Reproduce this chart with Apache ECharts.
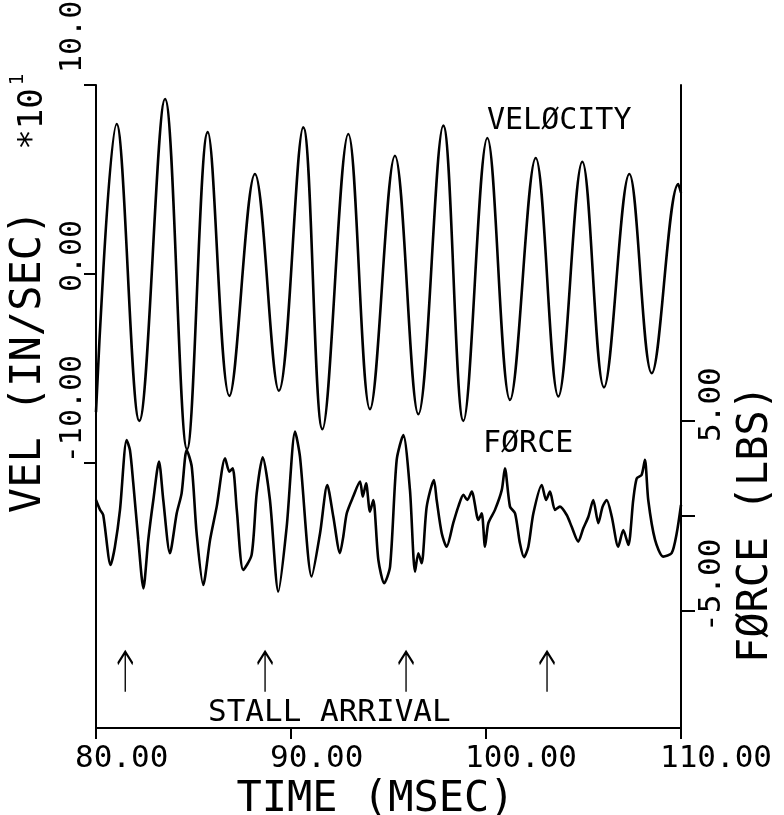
<!DOCTYPE html>
<html>
<head>
<meta charset="utf-8">
<script src="https://cdn.jsdelivr.net/npm/echarts/dist/echarts.min.js"></script>
<style>
html,body{margin:0;padding:0;background:#fff;}
#chart{width:784px;height:815px;}
</style>
</head>
<body>
<div id="chart"></div>
<script>
// ---- data ----
const xTicks = [80, 90, 100, 110];
const velTicks = [-10, 0, 10];
const forceTicks = [-5, 0, 5];
const forceLabels = [-5, 5];

// velocity extrema (time in msec, value in in/sec x10^1)
const velTime = [80.00, 81.06, 82.22, 83.54, 84.67, 85.73, 86.84, 88.15, 89.38, 90.63, 91.61, 92.94, 94.05, 95.33, 96.53, 97.81, 98.84, 100.07, 101.23, 102.55, 103.71, 104.94, 106.05, 107.35, 108.50, 109.86, 110.00];
const velValue = [-7.3, 7.94, -7.76, 9.26, -9.26, 7.51, -6.44, 5.29, -6.17, 7.76, -8.20, 7.41, -7.14, 6.26, -7.41, 7.85, -7.76, 7.20, -6.65, 6.14, -6.47, 5.94, -5.99, 5.29, -5.24, 4.76, 4.3];

const forceTime = [80.00, 80.21, 80.37, 80.75, 80.97, 81.23, 81.57, 81.74, 81.91, 82.17, 82.43, 82.68, 82.94, 83.23, 83.45, 83.79, 84.14, 84.39, 84.65, 84.91, 85.16, 85.50, 85.85, 86.19, 86.62, 86.84, 87.01, 87.22, 87.55, 87.98, 88.24, 88.55, 88.92, 89.35, 89.78, 90.21, 90.46, 91.06, 91.49, 91.86, 92.17, 92.51, 92.68, 92.86, 93.19, 93.54, 93.68, 93.85, 94.05, 94.22, 94.48, 94.78, 95.08, 95.42, 95.76, 96.10, 96.36, 96.53, 96.70, 96.96, 97.33, 97.47, 97.73, 97.98, 98.32, 98.58, 98.84, 99.04, 99.27, 99.61, 99.78, 99.95, 100.12, 100.46, 100.81, 100.97, 101.23, 101.49, 101.74, 101.95, 102.17, 102.43, 102.86, 103.08, 103.28, 103.54, 103.79, 104.14, 104.39, 104.73, 104.99, 105.25, 105.50, 105.76, 105.98, 106.19, 106.45, 106.78, 107.04, 107.30, 107.55, 107.73, 107.98, 108.15, 108.32, 108.67, 109.09, 109.52, 109.78, 110.00];
const forceValue = [0.84, 0.32, 0.05, -2.58, -1.62, 0.32, 4.00, 3.47, 1.74, -1.26, -3.81, -1.26, 0.84, 2.86, 0.84, -1.96, 0.14, 1.19, 3.47, 2.59, -0.91, -3.63, -1.26, 0.49, 3.04, 2.33, 2.51, 0.32, -2.84, -2.05, 1.19, 3.09, 0.84, -3.98, -0.56, 4.44, 3.12, -3.19, -0.91, 1.63, -0.04, -1.96, -1.09, 0.14, 1.02, 1.81, 1.02, 1.72, 0.23, 0.84, -2.32, -3.54, -2.67, 2.95, 4.26, 1.37, -2.93, -1.96, -2.49, 0.49, 1.89, 0.84, -0.91, -1.62, -0.38, 0.49, 1.11, 0.84, 1.28, -0.21, 0.14, -1.62, -0.38, 0.32, 1.37, 2.51, 0.49, 0.14, -1.44, -2.17, -1.62, 0.14, 1.63, 0.84, 1.28, 0.32, 0.49, 0.05, -0.56, -1.35, -0.65, -0.04, 0.84, -0.38, 0.49, 0.84, -0.04, -1.62, -0.74, -1.53, 0.84, 1.98, 2.16, 2.95, 0.84, -1.26, -2.14, -1.96, -0.91, 0.58];

const stallTimes = [81.50, 88.67, 95.90, 103.13];

// ---- build chart ----
const FONT = '"DejaVu Sans Mono", "Liberation Mono", monospace';
const INK = '#000';
const zip = (a, b) => a.map((v, i) => [v, b[i]]);
const velLabelShift = {'10': 12, '0': -18, '-10': 0};

const chart = echarts.init(document.getElementById('chart'), null, {renderer: 'canvas'});
const option = {
  animation: false,
  backgroundColor: '#fff',
  grid: {left: 96, right: 103, top: 85, bottom: 87, containLabel: false, outerBoundsMode: 'none'},
  xAxis: {
    type: 'value', min: 80, max: 110, interval: 10,
    name: 'TIME (MSEC)', nameLocation: 'middle', nameGap: 40,
    nameTextStyle: {fontFamily: FONT, fontSize: 42, color: INK, padding: [0, 26, 0, 0]},
    axisLine: {show: true, onZero: false, lineStyle: {color: INK, width: 2}},
    axisTick: {show: true, inside: false, length: 11, lineStyle: {color: INK, width: 2}},
    axisLabel: {
      show: true, margin: 15, fontFamily: FONT, fontSize: 31, color: INK,
      align: 'left', padding: [0, 0, 0, -21],
      showMinLabel: true, showMaxLabel: true,
      formatter: v => v.toFixed(2)
    },
    splitLine: {show: false}
  },
  yAxis: [
    {
      type: 'value', position: 'left', min: -24, max: 10,
      name: '{t|VEL (IN/SEC)}{g|}{e|*10}{s|1}', nameLocation: 'middle', nameGap: 35,
      nameTextStyle: {
        color: INK, padding: [0, 0, 0, 226],
        rich: {
          t: {fontFamily: FONT, fontSize: 42, color: INK, verticalAlign: 'bottom'},
          g: {width: 60},
          e: {fontFamily: FONT, fontSize: 34, color: INK, verticalAlign: 'bottom'},
          s: {fontFamily: FONT, fontSize: 19, color: INK, verticalAlign: 'top', padding: [0, 0, 0, 3]}
        }
      },
      axisLine: {show: true, onZero: false, lineStyle: {color: INK, width: 2}},
      axisTick: {show: true, inside: false, length: 12, customValues: velTicks, lineStyle: {color: INK, width: 2}},
      axisLabel: {
        show: true, customValues: velTicks, rotate: 90, margin: 8,
        align: 'left', verticalAlign: 'bottom',
        fontFamily: FONT, fontSize: 30, color: INK,
        formatter: v => '{p' + String(v).replace('-', 'm') + '|' + v.toFixed(2) + '}',
        rich: {
          p10: {fontFamily: FONT, fontSize: 30, color: INK, padding: [0, 0, 0, velLabelShift['10']]},
          p0: {fontFamily: FONT, fontSize: 30, color: INK, padding: [0, 0, 0, velLabelShift['0']]},
          pm10: {fontFamily: FONT, fontSize: 30, color: INK, padding: [0, 0, 0, velLabelShift['-10']]}
        }
      },
      splitLine: {show: false}
    },
    {
      type: 'value', position: 'right', min: -11.16, max: 22.68,
      name: 'FØRCE (LBS)', nameLocation: 'middle', nameGap: 42,
      nameTextStyle: {fontFamily: FONT, fontSize: 42, color: INK, padding: [0, 235, 0, 0]},
      axisLine: {show: true, onZero: false, lineStyle: {color: INK, width: 2}},
      axisTick: {show: true, inside: false, length: 14, customValues: forceTicks, lineStyle: {color: INK, width: 2}},
      axisLabel: {
        show: true, customValues: forceLabels, rotate: 90, margin: 15,
        align: 'left', verticalAlign: 'top', padding: [0, 0, 0, -21],
        fontFamily: FONT, fontSize: 31, color: INK,
        formatter: v => v.toFixed(2)
      },
      splitLine: {show: false}
    }
  ],
  graphic: [
    {type: 'text', x: 487, y: 121, style: {text: 'VELØCITY', font: '30px ' + FONT, fill: INK, align: 'left', verticalAlign: 'middle'}},
    {type: 'text', x: 483, y: 444, style: {text: 'FØRCE', font: '30px ' + FONT, fill: INK, align: 'left', verticalAlign: 'middle'}},
    {type: 'text', x: 208, y: 713, style: {text: 'STALL ARRIVAL', font: '31px ' + FONT, fill: INK, align: 'left', verticalAlign: 'middle'}}
  ],
  series: [
    {
      name: 'VELOCITY', type: 'line', xAxisIndex: 0, yAxisIndex: 0,
      data: zip(velTime, velValue), smooth: 0.364, showSymbol: false,
      lineStyle: {color: INK, width: 2.6}, silent: true
    },
    {
      name: 'FORCE', type: 'line', xAxisIndex: 0, yAxisIndex: 1,
      data: zip(forceTime, forceValue), smooth: 0.25, showSymbol: false,
      lineStyle: {color: INK, width: 2.6}, silent: true
    },
    {
      name: 'STALL ARRIVAL', type: 'scatter', xAxisIndex: 0, yAxisIndex: 1,
      data: stallTimes.map(t => [t, -8.2]),
      symbol: 'path://M10,0 L10,40 M3,12 L10,0 L17,12',
      symbolSize: [15, 40],
      itemStyle: {color: 'rgba(0,0,0,0)', borderColor: INK, borderWidth: 2.2, opacity: 1},
      silent: true
    }
  ]
};
chart.setOption(option);
</script>
</body>
</html>
